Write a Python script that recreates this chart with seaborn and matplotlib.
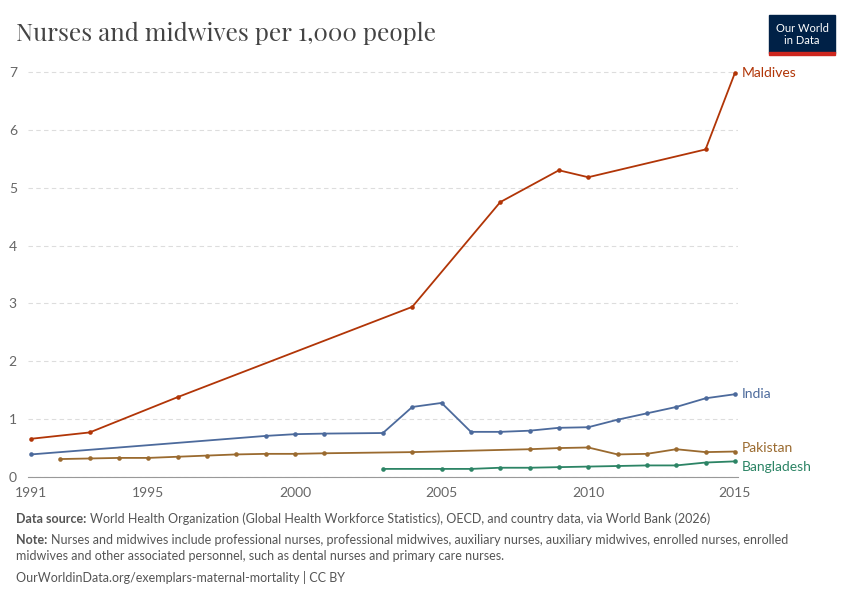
import pandas as pd
import seaborn as sns
import matplotlib.pyplot as plt

maldives_years = [1991, 1993, 1996, 2004, 2007, 2009, 2010, 2014, 2015]
maldives_vals = [0.66, 0.77, 1.38, 2.94, 4.75, 5.30, 5.18, 5.66, 6.98]
india_years = [1991, 1999, 2000, 2001, 2003, 2004, 2005, 2006, 2007, 2008, 2009, 2010, 2011, 2012, 2013, 2014, 2015]
india_vals = [0.39, 0.71, 0.74, 0.75, 0.76, 1.21, 1.28, 0.78, 0.78, 0.80, 0.85, 0.86, 0.99, 1.10, 1.21, 1.36, 1.43]
pakistan_years = [1992, 1993, 1994, 1995, 1996, 1997, 1998, 1999, 2000, 2001, 2004, 2008, 2009, 2010, 2011, 2012, 2013, 2014, 2015]
pakistan_vals = [0.31, 0.32, 0.33, 0.33, 0.35, 0.37, 0.39, 0.40, 0.40, 0.41, 0.43, 0.48, 0.50, 0.51, 0.39, 0.40, 0.48, 0.43, 0.44]
bangladesh_years = [2003, 2005, 2006, 2007, 2008, 2009, 2010, 2011, 2012, 2013, 2014, 2015]
bangladesh_vals = [0.14, 0.14, 0.14, 0.16, 0.16, 0.17, 0.18, 0.19, 0.20, 0.20, 0.25, 0.27]

series = [
    ("Maldives", maldives_years, maldives_vals, "#b13507"),
    ("India", india_years, india_vals, "#4c6a9c"),
    ("Pakistan", pakistan_years, pakistan_vals, "#9a6a2f"),
    ("Bangladesh", bangladesh_years, bangladesh_vals, "#2c8465"),
]
label_y = {"Maldives": 6.98, "India": 1.43, "Pakistan": 0.50, "Bangladesh": 0.18}

sns.set_style("white")
plt.rcParams['font.family'] = ['Lato', 'DejaVu Sans']
fig = plt.figure(figsize=(8.5, 6), dpi=100)
ax = fig.add_axes([0.033, 0.205, 0.835, 0.68])

for name, yrs, vals, col in series:
    df = pd.DataFrame({"year": yrs, "value": vals})
    sns.lineplot(data=df, x="year", y="value", color=col, lw=1.3, marker="o",
                 markersize=3.3, markeredgewidth=0, ax=ax)
    ax.text(2015.25, label_y[name], name, color=col, fontsize=10, va="center")

ax.set_xlim(1990.9, 2015.1)
ax.set_ylim(0, 7.05)
ax.set_xticks([1991, 1995, 2000, 2005, 2010, 2015])
ax.set_yticks(range(8))
ax.set_xlabel("")
ax.set_ylabel("")
ax.grid(axis="y", color="#dddddd", ls=(0, (4, 3)), lw=0.8)
for s in ["top", "right", "left"]:
    ax.spines[s].set_visible(False)
ax.spines["bottom"].set_color("#999999")
ax.tick_params(axis="x", length=4, color="#999999", colors="#666666", labelsize=10)
ax.tick_params(axis="y", length=0, colors="#666666", labelsize=10, pad=-4)
for lbl in ax.get_yticklabels():
    lbl.set_horizontalalignment("left")
    lbl.set_x(-0.035)

fig.text(0.019, 0.945, "Nurses and midwives per 1,000 people", fontsize=17.5, weight="bold",
         family=["Playfair Display", "DejaVu Serif"], color="#444444", va="center")
fig.patches.append(plt.Rectangle((0.905, 0.912), 0.077, 0.063, transform=fig.transFigure,
                                 color="#002147"))
fig.patches.append(plt.Rectangle((0.905, 0.908), 0.077, 0.005, transform=fig.transFigure,
                                 color="#ce261e"))
fig.text(0.9435, 0.943, "Our World\nin Data", color="white", fontsize=8, ha="center",
         va="center", linespacing=1.1)

renderer = fig.canvas.get_renderer()

def labelled(y, head, body):
    t = fig.text(0.019, y, head, fontsize=9, color="#555555", weight="bold", va="baseline")
    w = t.get_window_extent(renderer).width / fig.bbox.width
    fig.text(0.019 + w + 0.004, y, body, fontsize=9, color="#555555", va="baseline")

labelled(0.128, "Data source:", "World Health Organization (Global Health Workforce Statistics), OECD, and country data, via World Bank (2026)")
labelled(0.094, "Note:", "Nurses and midwives include professional nurses, professional midwives, auxiliary nurses, auxiliary midwives, enrolled nurses, enrolled")
fig.text(0.019, 0.066, "midwives and other associated personnel, such as dental nurses and primary care nurses.",
         fontsize=9, color="#555555", va="baseline")
fig.text(0.019, 0.03, "OurWorldinData.org/exemplars-maternal-mortality | CC BY", fontsize=9, color="#555555", va="baseline")

fig.savefig("out.png", dpi=100)
